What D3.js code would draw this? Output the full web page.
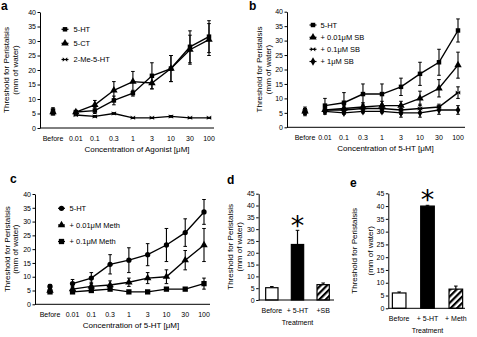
<!DOCTYPE html>
<html>
<head>
<meta charset="utf-8">
<script src="https://cdn.jsdelivr.net/npm/d3@7"></script>
<style>
body { margin: 0; background: #fff; }
svg { display: block; font-family: "Liberation Sans", Arial, sans-serif; }
</style>
</head>
<body>
<svg id="fig" width="477" height="337"></svg>
<script>
// x categories shared by the three dose-response panels
const concLabels = ["Before", "0.01", "0.1", "0.3", "1", "3", "10", "30", "100"];

// panel a
const a5HT = [6, 5.5, 6, 9.5, 12, 18, 20.5, 28, 31.5];
const a5HTErr = [1, 0.5, 1, 1.5, 1, 4.5, 4.5, 5.5, 5.5];
const a5CT = [5.5, 5.5, 8, 13, 16, 15.5, 20.5, 27, 30.5];
const a5CTErr = [1, 0.5, 1.5, 3, 3.5, 2, 4.5, 5, 5.5];
const aMe = [5, 4.5, 4, 5, 3.5, 3.5, 4, 3.5, 3.5];
const aMeErr = [0.5, 0.3, 0.3, 0.3, 0.2, 0.2, 0.3, 0.2, 0.2];

// panel b
const b5HT = [5.5, 7.5, 8.5, 11.5, 11.5, 14, 18.5, 22.5, 33.5];
const b5HTErr = [1.5, 2.5, 3.5, 3.5, 3.5, 3, 4, 4.5, 4];
const bSB001 = [5.5, 6, 6.5, 7, 7.5, 7.5, 10, 13.5, 21.5];
const bSB001Err = [1, 1, 1, 1.5, 1.5, 1.5, 2.5, 3, 4.5];
const bSB01 = [5.5, 6, 6, 6.5, 6.5, 6, 6.5, 7, 12];
const bSB01Err = [1, 1, 1, 1, 1, 1.5, 1.5, 1, 2];
const bSB1 = [5.5, 5.5, 5, 5.5, 5.5, 5, 5, 6, 6];
const bSB1Err = [1, 1, 0.5, 0.5, 0.5, 1.5, 1.5, 1.5, 1.5];

// panel c
const c5HT = [6.5, 7.5, 9.5, 14.5, 16, 18, 21.5, 26, 33.5];
const c5HTErr = [0.7, 1.5, 2, 3.5, 4.5, 4, 6, 5, 4.5];
const cMeth001 = [5, 5.5, 6.5, 7, 8, 9.5, 10, 16, 21.5];
const cMeth001Err = [0.7, 1, 1.5, 1.5, 1.5, 2, 2.5, 3.5, 6];
const cMeth01 = [4.5, 4.5, 5, 5.5, 4.5, 4.5, 5.5, 5.5, 7.5];
const cMeth01Err = [0.5, 0.5, 0.5, 0.5, 0.5, 0.5, 0.5, 0.5, 2];

// panels d and e
const dLabels = ["Before", "+ 5-HT", "+SB"];
const dValues = [5.2, 23.5, 6.5];
const dErr = [0.5, 6, 0.7];
const eLabels = ["Before", "+ 5-HT", "+ Meth"];
const eValues = [6, 40, 7.5];
const eErr = [0.4, 0.3, 1.2];

const svg = d3.select("#fig");

// hatch for the third bar
svg.append("defs").append("pattern")
   .attr("id", "hatch")
   .attr("patternUnits", "userSpaceOnUse")
   .attr("width", 4.5).attr("height", 4.5)
   .attr("patternTransform", "rotate(45)")
   .call(p => {
       p.append("rect").attr("width", 4.5).attr("height", 4.5).attr("fill", "#fff");
       p.append("rect").attr("width", 2.2).attr("height", 4.5).attr("fill", "#000");
   });

// bowtie marker, not in d3's set
const symbolBowtie = {
    draw(ctx, size) {
        const r = Math.sqrt(size) / 2;
        ctx.moveTo(-r, -r); ctx.lineTo(r, r); ctx.lineTo(r, -r); ctx.lineTo(-r, r); ctx.closePath();
    }
};

function yTitle(g, x1, x2, cy) {
    g.append("text").attr("transform", `translate(${x1},${cy}) rotate(-90)`)
     .attr("text-anchor", "middle").style("font-size", "8px").text("Threshold for Peristalsis");
    g.append("text").attr("transform", `translate(${x2},${cy}) rotate(-90)`)
     .attr("text-anchor", "middle").style("font-size", "8px").text("(mm of water)");
}

function yAxis(g, y, x, ticks) {
    const ax = g.append("g").attr("transform", `translate(${x},0)`)
                .call(d3.axisLeft(y).tickValues(ticks).tickSize(2.5).tickSizeOuter(0).tickPadding(1.5));
    ax.selectAll("text").style("font-size", "7px").attr("fill", "#000");
    ax.selectAll("line,path").attr("stroke", "#000");
}

function linePanel(cfg) {
    const g = svg.append("g");
    const y = d3.scaleLinear().domain([0, 40]).range([cfg.y0, cfg.y1]);
    const x = d3.scaleLinear().domain([-cfg.gap, 7]).range([cfg.xBefore, cfg.xLast]);
    const xi = i => i === 0 ? x(-cfg.gap) : x(i - 1);

    g.append("text").attr("x", cfg.letter[0]).attr("y", cfg.letter[1])
     .style("font-size", "12px").style("font-weight", "bold").text(cfg.name);

    yTitle(g, cfg.title[0], cfg.title[1], (cfg.y0 + cfg.y1) / 2);
    yAxis(g, y, cfg.axisX, d3.range(0, 41, 5));

    // x axis line and labels
    g.append("line").attr("x1", cfg.axisX).attr("x2", cfg.axisEnd)
     .attr("y1", cfg.y0).attr("y2", cfg.y0).attr("stroke", "#000");
    g.selectAll(".xl").data(concLabels).enter().append("text")
     .attr("x", (d, i) => xi(i)).attr("y", cfg.y0 + 13)
     .attr("text-anchor", "middle").style("font-size", "7px").text(d => d);
    g.append("text").attr("x", (cfg.xBefore + cfg.xLast) / 2 + cfg.titleShift).attr("y", cfg.y0 + 24)
     .attr("text-anchor", "middle").style("font-size", "8px").text(cfg.xTitle);

    const line = d3.line().x(d => xi(d.i)).y(d => y(d.v));

    cfg.series.forEach(s => {
        const pts = s.values.map((v, i) => ({ i, v, e: s.errors[i] }));
        g.append("path").datum(pts.slice(1)).attr("d", line)
         .attr("fill", "none").attr("stroke", "#000").attr("stroke-width", 1.4);
        const eb = g.selectAll(null).data(pts).enter().append("g");
        eb.append("line").attr("x1", d => xi(d.i)).attr("x2", d => xi(d.i))
          .attr("y1", d => y(d.v - d.e)).attr("y2", d => y(d.v + d.e))
          .attr("stroke", "#000").attr("stroke-width", 1.1);
        [1, -1].forEach(sg => {
            eb.append("line").attr("x1", d => xi(d.i) - 1.8).attr("x2", d => xi(d.i) + 1.8)
              .attr("y1", d => y(d.v + sg * d.e)).attr("y2", d => y(d.v + sg * d.e))
              .attr("stroke", "#000").attr("stroke-width", 1);
        });
        g.selectAll(null).data(pts).enter().append("path")
         .attr("transform", d => `translate(${xi(d.i)},${y(d.v)})`)
         .attr("d", d3.symbol().type(s.symbol).size(s.size || 20)).attr("fill", "#000");
    });

    // legend
    const lg = g.selectAll(".leg").data(cfg.series).enter().append("g")
                .attr("transform", (d, i) => `translate(${cfg.legX},${cfg.legY[i]})`);
    lg.append("line").attr("x1", -3.5).attr("x2", 3.5).attr("stroke", "#000").attr("stroke-width", 1.2);
    lg.append("path").attr("d", d => d3.symbol().type(d.symbol).size(d.size || 20)()).attr("fill", "#000");
    lg.append("text").attr("x", cfg.legText).attr("y", 2.7)
      .style("font-size", "7.5px").text(d => d.name);
}

function barPanel(cfg) {
    const g = svg.append("g");
    const y = d3.scaleLinear().domain([0, 45]).range([cfg.y0, cfg.y1]);
    const x = d3.scaleBand().domain(cfg.labels).range(cfg.bandRange).paddingInner(0.52).paddingOuter(0.26);

    g.append("text").attr("x", cfg.letter[0]).attr("y", cfg.letter[1])
     .style("font-size", "12px").style("font-weight", "bold").text(cfg.name);
    yTitle(g, cfg.title[0], cfg.title[1], (cfg.y0 + cfg.y1) / 2);

    const fills = ["#fff", "#000", "url(#hatch)"];
    g.selectAll(null).data(cfg.values).enter().append("line")
     .attr("x1", (d, i) => x(cfg.labels[i]) + x.bandwidth() / 2)
     .attr("x2", (d, i) => x(cfg.labels[i]) + x.bandwidth() / 2)
     .attr("y1", (d, i) => y(d)).attr("y2", (d, i) => y(d + cfg.errors[i]))
     .attr("stroke", "#000").attr("stroke-width", 1.2);
    g.selectAll(null).data(cfg.values).enter().append("line")
     .attr("x1", (d, i) => x(cfg.labels[i]) + x.bandwidth() / 2 - 1.8)
     .attr("x2", (d, i) => x(cfg.labels[i]) + x.bandwidth() / 2 + 1.8)
     .attr("y1", (d, i) => y(d + cfg.errors[i])).attr("y2", (d, i) => y(d + cfg.errors[i]))
     .attr("stroke", "#000").attr("stroke-width", 1);
    g.selectAll(null).data(cfg.values).enter().append("rect")
     .attr("x", (d, i) => x(cfg.labels[i])).attr("width", x.bandwidth())
     .attr("y", d => y(d)).attr("height", d => cfg.y0 - y(d))
     .attr("fill", (d, i) => fills[i]).attr("stroke", "#000").attr("stroke-width", 1.2);

    yAxis(g, y, cfg.axisX, d3.range(0, 46, 5));
    g.append("line").attr("x1", cfg.axisX).attr("x2", cfg.axisEnd)
     .attr("y1", cfg.y0).attr("y2", cfg.y0).attr("stroke", "#000");

    g.selectAll(null).data(cfg.labels).enter().append("text")
     .attr("x", d => x(d) + x.bandwidth() / 2).attr("y", cfg.y0 + 13)
     .attr("text-anchor", "middle").style("font-size", "7px").text(d => d);
    g.append("text").attr("x", x(cfg.labels[1]) + x.bandwidth() / 2).attr("y", cfg.y0 + 25)
     .attr("text-anchor", "middle").style("font-size", "7px").text("Treatment");

    // significance mark above the 5-HT bar
    g.append("text").attr("x", x(cfg.labels[1]) + x.bandwidth() / 2)
     .attr("y", y(cfg.values[1] + cfg.errors[1]) + cfg.starDy)
     .attr("text-anchor", "middle").style("font-family", "DejaVu Sans")
     .style("font-size", "27px").text("*");
}

linePanel({
    name: "a", letter: [1, 10], title: [9, 18],
    axisX: 40, axisEnd: 214, y0: 128, y1: 12,
    xBefore: 53, xLast: 209, gap: 1.2, titleShift: 6,
    xTitle: "Concentration of Agonist [\u03bcM]",
    legX: 65, legText: 8.5, legY: [29.3, 43.3, 59.5],
    series: [
        { name: "5-HT", values: a5HT, errors: a5HTErr, symbol: d3.symbolSquare },
        { name: "5-CT", values: a5CT, errors: a5CTErr, symbol: d3.symbolTriangle, size: 24 },
        { name: "2-Me-5-HT", values: aMe, errors: aMeErr, symbol: symbolBowtie }
    ]
});

linePanel({
    name: "b", letter: [249, 10], title: [262, 270.5],
    axisX: 287, axisEnd: 465, y0: 127.3, y1: 11.7,
    xBefore: 305, xLast: 458, gap: 1.05, titleShift: 4,
    xTitle: "Concentration of 5-HT [\u03bcM]",
    legX: 313, legText: 7.5, legY: [25, 37.3, 49.3, 61.5],
    series: [
        { name: "5-HT", values: b5HT, errors: b5HTErr, symbol: d3.symbolSquare },
        { name: "+ 0.01\u03bcM SB", values: bSB001, errors: bSB001Err, symbol: d3.symbolTriangle, size: 24 },
        { name: "+  0.1\u03bcM SB", values: bSB01, errors: bSB01Err, symbol: symbolBowtie },
        { name: "+   1\u03bcM SB", values: bSB1, errors: bSB1Err, symbol: d3.symbolDiamond }
    ]
});

linePanel({
    name: "c", letter: [10, 183], title: [10, 18],
    axisX: 35, axisEnd: 210, y0: 304.3, y1: 194,
    xBefore: 50, xLast: 204, gap: 1.2, titleShift: 4,
    xTitle: "Concentration of 5-HT [\u03bcM]",
    legX: 61.5, legText: 8, legY: [208.3, 225, 241.5],
    series: [
        { name: "5-HT", values: c5HT, errors: c5HTErr, symbol: d3.symbolCircle, size: 22 },
        { name: "+ 0.01\u03bcM Meth", values: cMeth001, errors: cMeth001Err, symbol: d3.symbolTriangle, size: 24 },
        { name: "+ 0.1\u03bcM Meth", values: cMeth01, errors: cMeth01Err, symbol: d3.symbolSquare, size: 28 }
    ]
});

barPanel({
    name: "d", letter: [227, 184], title: [233, 242],
    labels: dLabels, values: dValues, errors: dErr,
    axisX: 258.7, axisEnd: 334, y0: 300, y1: 193.7,
    bandRange: [259, 336], starDy: 5
});

barPanel({
    name: "e", letter: [350, 187], title: [357, 373],
    labels: eLabels, values: eValues, errors: eErr,
    axisX: 388.3, axisEnd: 465, y0: 308.3, y1: 193.3,
    bandRange: [385, 470], starDy: 4
});
</script>
</body>
</html>
